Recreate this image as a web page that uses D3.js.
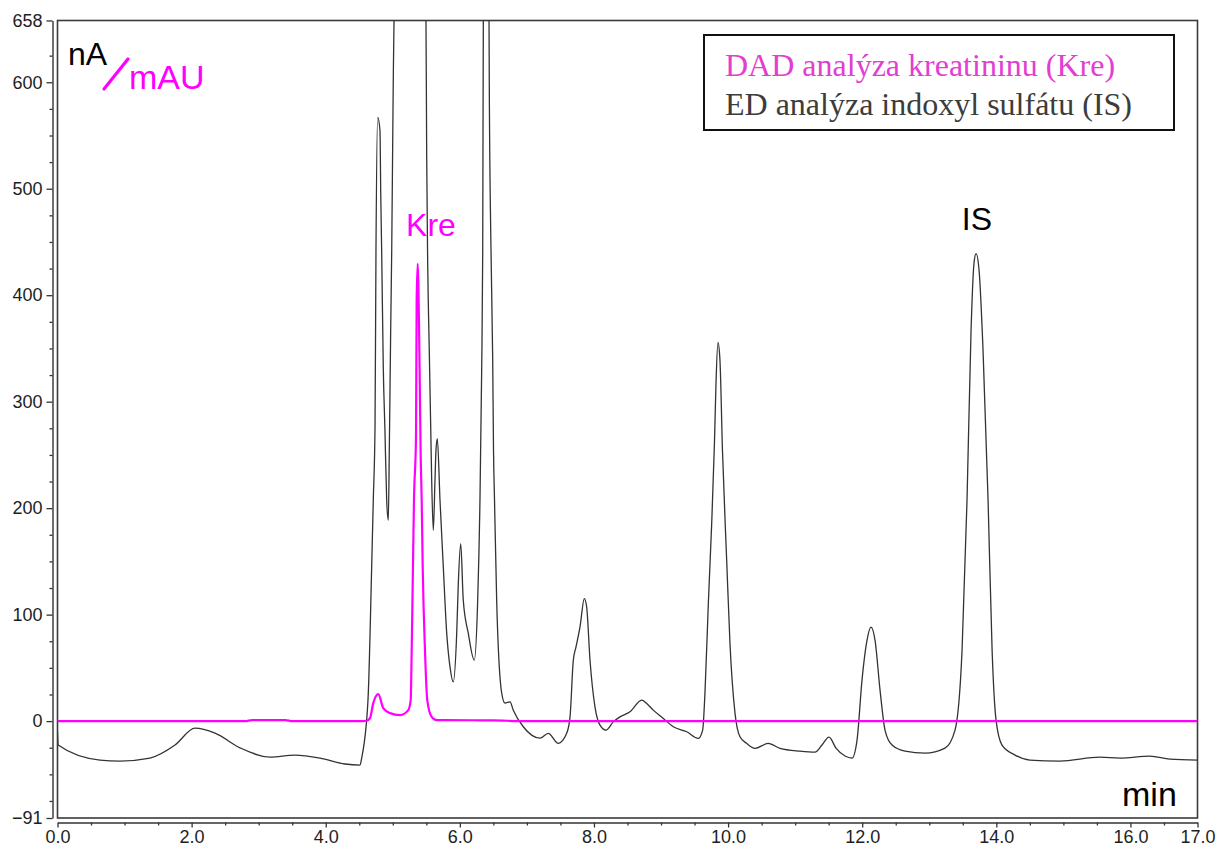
<!DOCTYPE html>
<html>
<head>
<meta charset="utf-8">
<script src="https://cdn.jsdelivr.net/npm/d3@7"></script>
<style>
  html, body { margin: 0; padding: 0; background: #fff; }
  svg { display: block; }
</style>
</head>
<body>
<svg id="chart" width="1216" height="847"></svg>
<script>
// ---- DATA ----
const edTime = [0, 0.01, 0.634, 0.932, 1.379, 1.752, 2.050, 2.349, 2.729, 3.169, 3.542, 3.915, 4.287, 4.511,
  4.536, 4.630, 4.685, 4.709, 4.735, 4.749, 4.775, 4.809, 4.820, 4.834, 4.858, 4.883, 4.909, 4.933,
  4.948, 4.969, 4.984, 5.007, 5.018, 5.06, 5.25, 5.45, 5.495, 5.505, 5.520, 5.544, 5.565, 5.580, 5.604,
  5.629, 5.644, 5.664, 5.704, 5.753, 5.804, 5.853, 5.902, 5.953, 5.977, 6.013, 6.051, 6.126, 6.215,
  6.266, 6.300, 6.326, 6.341, 6.350, 6.390, 6.435, 6.439, 6.460, 6.490, 6.502, 6.517, 6.549, 6.624,
  6.673, 6.748, 6.797, 6.946, 7.195, 7.319, 7.468, 7.593, 7.643, 7.692, 7.732, 7.792, 7.856, 7.891,
  7.941, 8.015, 8.090, 8.179, 8.288, 8.388, 8.537, 8.712, 8.786, 8.885, 9.034, 9.183, 9.383, 9.556,
  9.621, 9.655, 9.705, 9.755, 9.797, 9.820, 9.849, 9.879, 9.916, 9.979, 10.028, 10.103, 10.177,
  10.277, 10.401, 10.599, 10.774, 11.072, 11.296, 11.400, 11.505, 11.609, 11.744, 11.848, 11.923,
  11.997, 12.072, 12.131, 12.191, 12.266, 12.340, 12.445, 12.639, 12.937, 13.235, 13.384, 13.489,
  13.563, 13.623, 13.668, 13.698, 13.743, 13.802, 13.877, 13.937, 13.996, 14.085, 14.279, 14.500,
  14.948, 15.544, 15.843, 16.290, 16.588, 17.0];
const edSignal = [-10, -22.5, -36.6, -37.5, -34.7, -22.5, -6.6, -11.3, -25.3, -33.8, -31.9, -34.7, -40.3, -41.3,
  -34.7, 19.7, 144.8, 207.4, 276.2, 439.1, 567, 554.7, 496.7, 442, 332.5, 273, 207.4, 188.6,
  254.3, 370, 442, 601.5, 656, 720, 900, 720, 656, 534.2, 432.6, 348.1, 277.8, 226.1, 179.2,
  226, 254.3, 265.3, 207.4, 145, 82.6, 51, 36.9, 82.3, 129.2, 166.7, 113.5, 82.3, 57.2,
  113.5, 207.4, 332.5, 442, 657, 800, 657, 598.7, 460.7, 338.7, 254.3, 207.4, 113.5, 26.3,
  16.9, 18.1, 10.3, -5.3, -16, -11.5, -20.9, -11.5, 4, 57.2, 69.7, 88.5, 115.1, 107.3,
  57.2, 13.4, -3.8, -8.4, -0.7, 4, 8.7, 19.7, 16.6, 10.3, 2.5, -5.3, -10, -16.2,
  -8.4, 26.3, 110, 185, 262, 318, 355.6, 338.7, 254.3, 151.1, 73.2, 7.5, -14.7,
  -20.9, -25.6, -20.9, -25.6, -28.2, -29.1, -22.5, -15, -25.3, -32.8, -34.7, -17.8,
  38.5, 76, 88.2, 76, 29.1, -8.4, -22.5, -28.2, -30, -25.3, -8.4, 66.6,
  207.4, 366.9, 430.7, 439.1, 423.2, 348.1, 207.4, 66.6, 0.9, -22.5, -31.9, -36.6,
  -37.5, -33.8, -34.7, -32.8, -35.7, -36.6];

const dadTime = [0, 2.8, 2.9, 3.4, 3.5, 4.55, 4.611, 4.660, 4.709, 4.784, 4.858, 4.958, 5.107, 5.231, 5.267,
  5.282, 5.297, 5.316, 5.346, 5.356, 5.371, 5.395, 5.416, 5.431, 5.446, 5.480, 5.514, 5.580, 5.655,
  6.2, 6.5, 7.0, 17.0];
const dadSignal = [0, 0, 1, 1, 0, 0, 0.3, 2.8, 16.9, 25.3, 12.2, 7.5, 5.6, 10.3, 19.7,
  66.6, 129.5, 207.4, 266.8, 395, 429.5, 354.7, 248, 207.4, 144.8, 66.6, 19.7, 4, 0.9,
  0.8, 0.6, 0, 0];

const yMajorTicks = [658, 600, 500, 400, 300, 200, 100, 0, -91];
const yMinorTicks = [625, 575, 550, 525, 475, 450, 425, 375, 350, 325, 275, 250, 225, 175, 150, 125, 75, 50, 25, -25, -50, -75];
const xMajorTicks = [0, 2, 4, 6, 8, 10, 12, 14, 16, 17];
const xMinorTicks = [0.5, 1, 1.5, 2.5, 3, 3.5, 4.5, 5, 5.5, 6.5, 7, 7.5, 8.5, 9, 9.5, 10.5, 11, 11.5, 12.5, 13, 13.5, 14.5, 15, 15.5, 16.5];

const legendLabels = ["DAD analýza kreatininu (Kre)", "ED analýza indoxyl sulfátu (IS)"];
const peakLabels = [{text: "Kre", t: 5.57}, {text: "IS", t: 13.71}];

// ---- LAYOUT ----
const svg = d3.select("#chart");
const L = 57.5, R = 1197.5, T = 20.5, B = 818;
const x = d3.scaleLinear().domain([0, 17]).range([L, R]);
const y = d3.scaleLinear().domain([-91, 658]).range([B, T]);
const MAG = "#ff00ff";

svg.append("defs").append("clipPath").attr("id", "plotclip")
  .append("rect").attr("x", L).attr("y", T).attr("width", R - L).attr("height", B - T);

// frame
svg.append("rect").attr("x", L).attr("y", T).attr("width", R - L).attr("height", B - T)
  .attr("fill", "none").attr("stroke", "#3a3a3a").attr("stroke-width", 1.6);

// y axis
const yAxisG = svg.append("g").attr("transform", "translate(52.5,0)");
yAxisG.append("g")
  .call(d3.axisLeft(y).tickValues(yMajorTicks).tickSize(6).tickSizeOuter(0).tickPadding(4).tickFormat(d3.format("d")))
  .call(g => g.select(".domain").attr("stroke", "#333").attr("stroke-width", 1.4))
  .call(g => g.selectAll(".tick line").attr("stroke", "#333").attr("stroke-width", 1.3))
  .call(g => g.selectAll("text").attr("font-family", "Liberation Sans, Arial, sans-serif")
    .attr("font-size", 18).attr("fill", "#1e1e1e"));
yAxisG.append("g")
  .call(d3.axisLeft(y).tickValues(yMinorTicks).tickSize(3).tickSizeOuter(0).tickFormat(""))
  .call(g => g.select(".domain").remove())
  .call(g => g.selectAll(".tick line").attr("stroke", "#333").attr("stroke-width", 1.3));

// x axis
const xAxisG = svg.append("g").attr("transform", "translate(0,822.5)");
xAxisG.append("g")
  .call(d3.axisBottom(x).tickValues(xMajorTicks).tickSize(5).tickSizeOuter(0).tickFormat(d3.format(".1f")))
  .call(g => g.select(".domain").attr("stroke", "#333").attr("stroke-width", 1.4))
  .call(g => g.selectAll(".tick line").attr("stroke", "#333").attr("stroke-width", 1.3))
  .call(g => g.selectAll("text").attr("font-family", "Liberation Sans, Arial, sans-serif")
    .attr("font-size", 18).attr("fill", "#1e1e1e").attr("y", 20).attr("dy", 0));
xAxisG.append("g")
  .call(d3.axisBottom(x).tickValues(xMinorTicks).tickSize(3).tickSizeOuter(0).tickFormat(""))
  .call(g => g.select(".domain").remove())
  .call(g => g.selectAll(".tick line").attr("stroke", "#333").attr("stroke-width", 1.3));

// traces
const plot = svg.append("g").attr("clip-path", "url(#plotclip)");
const line = d3.line().curve(d3.curveMonotoneX).x(d => x(d[0])).y(d => y(d[1]));
const edData = edTime.map((t, i) => [t, edSignal[i]]);
const dadData = dadTime.map((t, i) => [t, dadSignal[i]]);
plot.append("path").datum(edData).attr("d", line)
  .attr("fill", "none").attr("stroke", "#333").attr("stroke-width", 1.3).attr("stroke-linejoin", "round");
plot.append("path").datum(dadData).attr("d", line)
  .attr("fill", "none").attr("stroke", MAG).attr("stroke-width", 2.2).attr("stroke-linejoin", "round");

// peak labels
const sans = "Liberation Sans, Arial, sans-serif";
svg.append("text").attr("x", x(peakLabels[0].t)).attr("y", 236).attr("text-anchor", "middle")
  .attr("font-family", sans).attr("font-size", 32).attr("fill", MAG).text(peakLabels[0].text);
svg.append("text").attr("x", x(peakLabels[1].t)).attr("y", 230).attr("text-anchor", "middle")
  .attr("font-family", sans).attr("font-size", 32).attr("fill", "#000").text(peakLabels[1].text);

// unit labels
svg.append("text").attr("x", 68).attr("y", 65).attr("font-family", sans).attr("font-size", 32)
  .attr("fill", "#000").text("nA");
svg.append("line").attr("x1", 104).attr("y1", 89).attr("x2", 128).attr("y2", 59)
  .attr("stroke", MAG).attr("stroke-width", 3.2).attr("stroke-linecap", "round");
svg.append("text").attr("x", 129).attr("y", 88.5).attr("font-family", sans).attr("font-size", 34)
  .attr("fill", MAG).text("mAU");
svg.append("text").attr("x", 1122).attr("y", 806).attr("font-family", sans).attr("font-size", 34)
  .attr("fill", "#000").text("min");

// legend
const lg = svg.append("g");
lg.append("rect").attr("x", 704).attr("y", 35).attr("width", 470).attr("height", 95)
  .attr("fill", "#fff").attr("stroke", "#111").attr("stroke-width", 2);
const legendColors = ["#e23ed2", "#3c3c3c"];
lg.selectAll("text.lg").data(legendLabels).enter().append("text")
  .attr("class", "lg").attr("x", 725).attr("y", (d, i) => 76 + i * 39)
  .attr("font-family", "Liberation Serif, Times New Roman, serif").attr("font-size", 32)
  .attr("fill", (d, i) => legendColors[i]).text(d => d);
</script>
</body>
</html>
